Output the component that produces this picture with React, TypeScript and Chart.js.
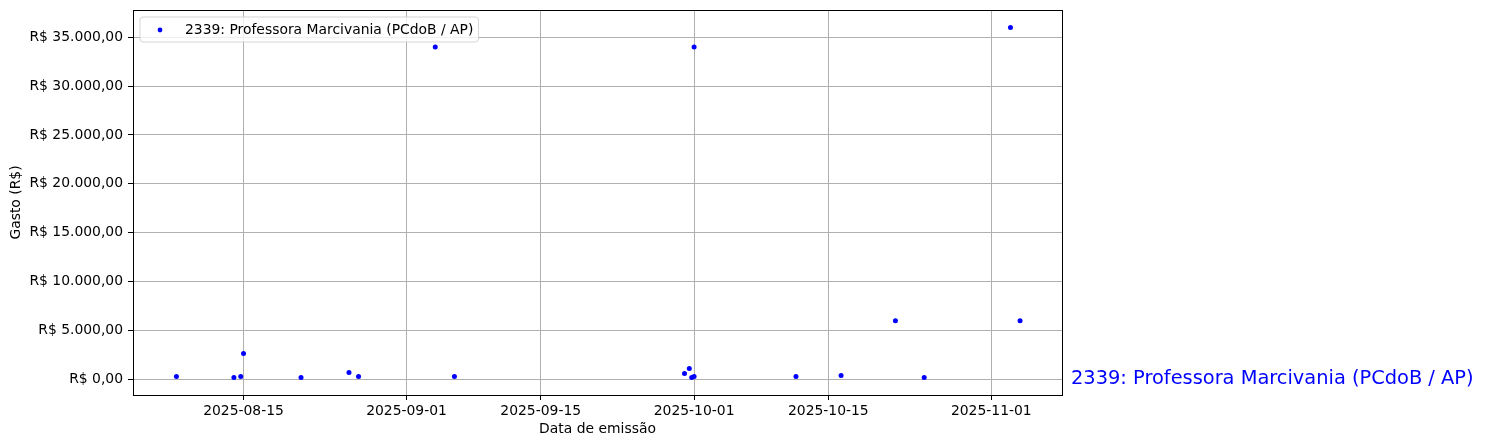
import React, { useEffect, useRef } from "react";
import { Chart, registerables } from "chart.js";

Chart.register(...registerables);

const seriesName = "2339: Professora Marcivania (PCdoB / AP)";
const emissionDates = [
  "2025-08-08", "2025-08-14", "2025-08-14T17:00", "2025-08-15", "2025-08-21",
  "2025-08-26", "2025-08-27", "2025-09-04", "2025-09-06", "2025-09-30",
  "2025-09-30T12:00", "2025-09-30T18:00", "2025-10-01", "2025-10-01", "2025-10-11T15:00",
  "2025-10-16T08:00", "2025-10-22", "2025-10-25", "2025-11-03", "2025-11-04",
];
const spendValues = [
  300, 200, 300, 2650, 200,
  700, 300, 34000, 300, 600,
  1100, 200, 34000, 300, 300,
  400, 6000, 200, 36000, 6000,
];
const xTickDates = ["2025-08-15", "2025-09-01", "2025-09-15", "2025-10-01", "2025-10-15", "2025-11-01"];
const yTickValues = [0, 5000, 10000, 15000, 20000, 25000, 30000, 35000];
const xRange = ["2025-08-03T11:20", "2025-11-08T09:00"];
const yRange = [-1600, 37780];

const FONT = "'DejaVu Sans', sans-serif";
const BLUE = "#0000ff";

function toMs(s: string): number {
  return Date.parse(s.length === 10 ? s + "T00:00:00Z" : s + ":00Z");
}

function fmtDate(ms: number): string {
  const d = new Date(ms);
  const m = String(d.getUTCMonth() + 1).padStart(2, "0");
  const day = String(d.getUTCDate()).padStart(2, "0");
  return `${d.getUTCFullYear()}-${m}-${day}`;
}

function fmtBRL(v: number): string {
  const neg = v < 0;
  const n = Math.abs(v);
  const int = Math.floor(n);
  const cents = Math.round((n - int) * 100);
  const s = String(int).replace(/\B(?=(\d{3})+(?!\d))/g, ".");
  return `${neg ? "-" : ""}R$ ${s},${String(cents).padStart(2, "0")}`;
}

const overlayPlugin = {
  id: "overlay",
  afterDraw(chart: any) {
    const ctx = chart.ctx as CanvasRenderingContext2D;
    const a = chart.chartArea;
    ctx.save();
    // frame
    ctx.strokeStyle = "#000";
    ctx.lineWidth = 1;
    ctx.strokeRect(Math.round(a.left) + 0.5, Math.round(a.top) + 0.5, Math.round(a.right - a.left), Math.round(a.bottom - a.top));
    // legend
    const lx = a.left + 7, ly = a.top + 7, lw = 338.5, lh = 25;
    const r = 3;
    ctx.beginPath();
    ctx.moveTo(lx + r, ly);
    ctx.lineTo(lx + lw - r, ly);
    ctx.quadraticCurveTo(lx + lw, ly, lx + lw, ly + r);
    ctx.lineTo(lx + lw, ly + lh - r);
    ctx.quadraticCurveTo(lx + lw, ly + lh, lx + lw - r, ly + lh);
    ctx.lineTo(lx + r, ly + lh);
    ctx.quadraticCurveTo(lx, ly + lh, lx, ly + lh - r);
    ctx.lineTo(lx, ly + r);
    ctx.quadraticCurveTo(lx, ly, lx + r, ly);
    ctx.closePath();
    ctx.fillStyle = "rgba(255,255,255,0.8)";
    ctx.fill();
    ctx.strokeStyle = "rgba(204,204,204,0.8)";
    ctx.lineWidth = 1;
    ctx.stroke();
    ctx.fillStyle = BLUE;
    ctx.beginPath();
    ctx.arc(lx + 20, ly + lh / 2 + 0.5, 2.4, 0, Math.PI * 2);
    ctx.fill();
    ctx.fillStyle = "#000";
    ctx.font = `13.9px ${FONT}`;
    ctx.textBaseline = "middle";
    ctx.textAlign = "left";
    ctx.fillText(seriesName, lx + 45, ly + lh / 2 + 0.5);
    // right-side label
    const y0 = chart.scales.y.getPixelForValue(0);
    ctx.fillStyle = BLUE;
    ctx.font = `19.4px ${FONT}`;
    ctx.textBaseline = "middle";
    ctx.fillText(seriesName, a.right + 9, y0);
    ctx.restore();
  },
};

export default function App() {
  const ref = useRef<HTMLCanvasElement | null>(null);
  useEffect(() => {
    document.body.style.margin = "0";
    const canvas = ref.current!;
    const points = emissionDates.map((d, i) => ({ x: toMs(d), y: spendValues[i] }));
    const chart = new Chart(canvas, {
      type: "scatter",
      data: {
        datasets: [
          {
            label: seriesName,
            data: points,
            pointRadius: 2.5,
            pointBackgroundColor: BLUE,
            pointBorderColor: BLUE,
            pointBorderWidth: 0,
          },
        ],
      },
      options: {
        responsive: false,
        animation: false,
        layout: { padding: { left: 0, top: 10, right: 423, bottom: 0 } },
        plugins: { legend: { display: false }, tooltip: { enabled: false } },
        scales: {
          x: {
            type: "linear",
            min: toMs(xRange[0]),
            max: toMs(xRange[1]),
            afterBuildTicks: (s: any) => {
              s.ticks = xTickDates.map((d) => ({ value: toMs(d) }));
            },
            afterFit: (s: any) => {
              s.height = 53;
              s.paddingLeft = 0;
              s.paddingRight = 0;
            },
            grid: { color: "#b0b0b0", lineWidth: 1, tickColor: "#000", tickLength: 5, tickWidth: 1 },
            border: { display: true, color: "#000", width: 1 },
            ticks: {
              color: "#000",
              font: { family: FONT, size: 13.9 },
              padding: 3,
              maxRotation: 0,
              autoSkip: false,
              callback: (v: any) => fmtDate(Number(v)),
            },
            title: {
              display: true,
              text: "Data de emissão",
              color: "#000",
              font: { family: FONT, size: 13.9 },
              padding: { top: 0, bottom: 10 },
            },
          },
          y: {
            type: "linear",
            min: yRange[0],
            max: yRange[1],
            afterBuildTicks: (s: any) => {
              s.ticks = yTickValues.map((v) => ({ value: v }));
            },
            afterFit: (s: any) => {
              s.width = 133;
              s.paddingTop = 0;
              s.paddingBottom = 0;
            },
            grid: { color: "#b0b0b0", lineWidth: 1, tickColor: "#000", tickLength: 5, tickWidth: 1 },
            border: { display: true, color: "#000", width: 1 },
            ticks: {
              color: "#000",
              font: { family: FONT, size: 13.9 },
              padding: 5,
              autoSkip: false,
              callback: (v: any) => fmtBRL(Number(v)),
            },
            title: {
              display: true,
              text: "Gasto (R$)",
              color: "#000",
              font: { family: FONT, size: 13.9 },
              padding: { top: 8, bottom: 0 },
            },
          },
        },
      },
      plugins: [overlayPlugin],
    });
    return () => chart.destroy();
  }, []);
  return (
    <div style={{ width: 1485, height: 448, background: "#fff" }}>
      <canvas ref={ref} width={1485} height={448} style={{ display: "block" }} />
    </div>
  );
}
